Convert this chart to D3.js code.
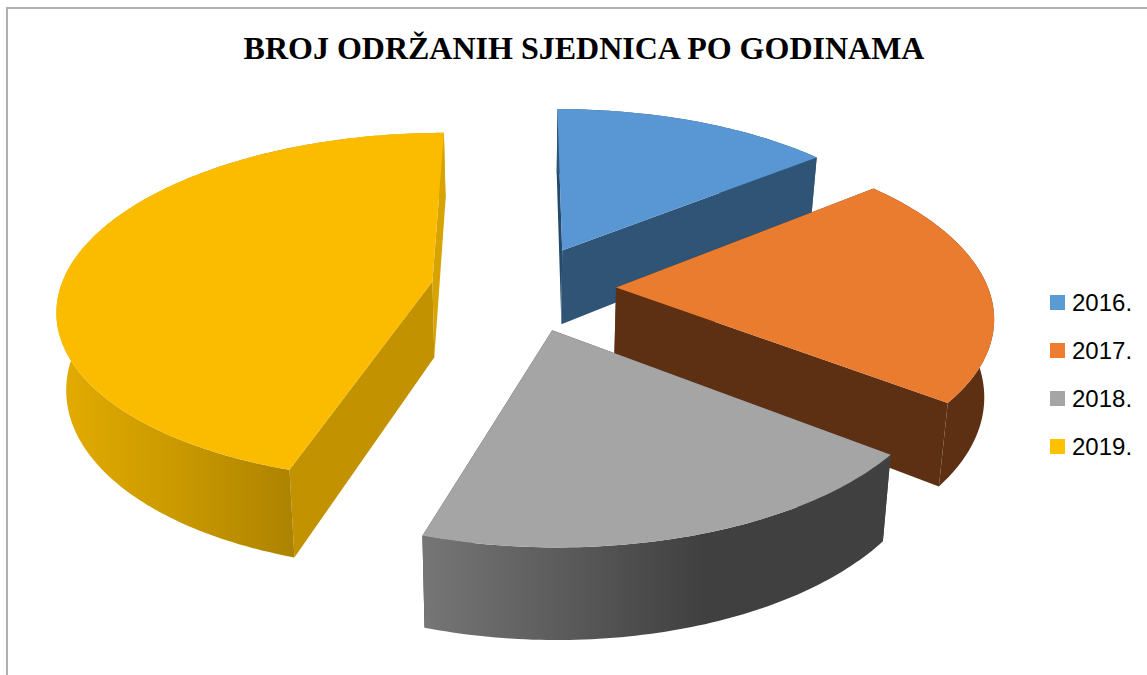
<!DOCTYPE html>
<html><head><meta charset="utf-8">
<script src="https://cdn.jsdelivr.net/npm/d3@7"></script>
<style>html,body{margin:0;padding:0;background:#fff}svg{display:block}</style>
</head><body><svg id="c" width="1147" height="675"></svg>
<script>
const chartTitle = "BROJ ODRŽANIH SJEDNICA PO GODINAMA";
const categories = ["2016.", "2017.", "2018.", "2019."];
const values = [22, 33, 30, 70];
const topColors = ["#5897D3", "#EA7C30", "#A5A5A5", "#FBBC00"];
const legendColors = ["#5B9BD5", "#ED7D31", "#A5A5A5", "#FFC000"];
const cutStartColors = ["#234A6B", "#5E3013", "#4A4A4A", "#C29200"];
const cutEndColors = ["#2F5475", "#5E3013", "#404040", "#D6A300"];
const wallStops = [
  [["0%", "#2F5475"], ["100%", "#2F5475"]],
  [["0%", "#5E3013"], ["100%", "#5E3013"]],
  [["0%", "#767676"], ["60%", "#404040"], ["100%", "#404040"]],
  [["0%", "#E3AC00"], ["30%", "#CB9A00"], ["61%", "#AD8200"], ["61%", "#D6A300"], ["100%", "#D6A300"]]
];
const drawOrder = [0, 3, 1, 2];

// projection of the exploded 3D pie
const cx = 523.5, cy = 288, rx = 372, horizon = 1187, depth = 6.9, thick = 76, taper = 0.021, explode = 0.249;
const project = (X, Y, z) => {
  const s = depth / (depth - Y);
  return [cx + rx * X * s * (1 - taper * z), cy + horizon * (s - 1) + thick * s * z];
};

const svg = d3.select("#c");
const defs = svg.append("defs");
const line = d3.line();
const pie = d3.pie().sort(null);
const arcs = pie(values);

// frame
svg.append("path").attr("d", "M7,675V8H1147").attr("fill", "none").attr("stroke", "#B0B0B0").attr("stroke-width", 2);

svg.append("text").attr("x", 584).attr("y", 58.5).attr("text-anchor", "middle")
  .attr("font-family", "Liberation Serif").attr("font-weight", "bold").attr("font-size", 32)
  .attr("fill", "#000").text(chartTitle);

drawOrder.forEach(i => {
  const a = arcs[i];
  const mid = (a.startAngle + a.endAngle) / 2;
  const ox = explode * Math.sin(mid), oy = -explode * Math.cos(mid);
  const pt = (t, r, z) => project(ox + r * Math.sin(t), oy - r * Math.cos(t), z);
  const n = Math.ceil((a.endAngle - a.startAngle) * 60);
  const ts = d3.range(n + 1).map(k => a.startAngle + (a.endAngle - a.startAngle) * k / n);
  const g = svg.append("g");

  const quad = (t, fill) => g.append("path")
    .attr("d", line([pt(t, 0, 0), pt(t, 1, 0), pt(t, 1, 1), pt(t, 0, 1)]) + "Z").attr("fill", fill);
  quad(a.startAngle, cutStartColors[i]);
  quad(a.endAngle, cutEndColors[i]);

  const wall = ts.map(t => pt(t, 1, 0)).concat(ts.slice().reverse().map(t => pt(t, 1, 1)));
  const xExt = d3.extent(wall, p => p[0]);
  const gid = "w" + i;
  const grad = defs.append("linearGradient").attr("id", gid).attr("gradientUnits", "userSpaceOnUse")
    .attr("x1", xExt[0]).attr("x2", xExt[1]).attr("y1", 0).attr("y2", 0);
  wallStops[i].forEach(s => grad.append("stop").attr("offset", s[0]).attr("stop-color", s[1]));
  g.append("path").attr("d", line(wall) + "Z").attr("fill", `url(#${gid})`);

  const top = [pt(a.startAngle, 0, 0)].concat(ts.map(t => pt(t, 1, 0)));
  g.append("path").attr("d", line(top) + "Z").attr("fill", topColors[i]);
});

// legend
const ly = d3.scalePoint().domain(categories).range([295, 439]);
const lg = svg.append("g").selectAll("g").data(categories).join("g")
  .attr("transform", d => `translate(1050,${ly(d)})`);
lg.append("rect").attr("width", 15).attr("height", 15).attr("fill", (d, i) => legendColors[i]);
lg.append("text").attr("x", 22).attr("y", 16).attr("font-family", "Liberation Sans").attr("font-size", 24)
  .attr("fill", "#000").text(d => d);
</script></body></html>
